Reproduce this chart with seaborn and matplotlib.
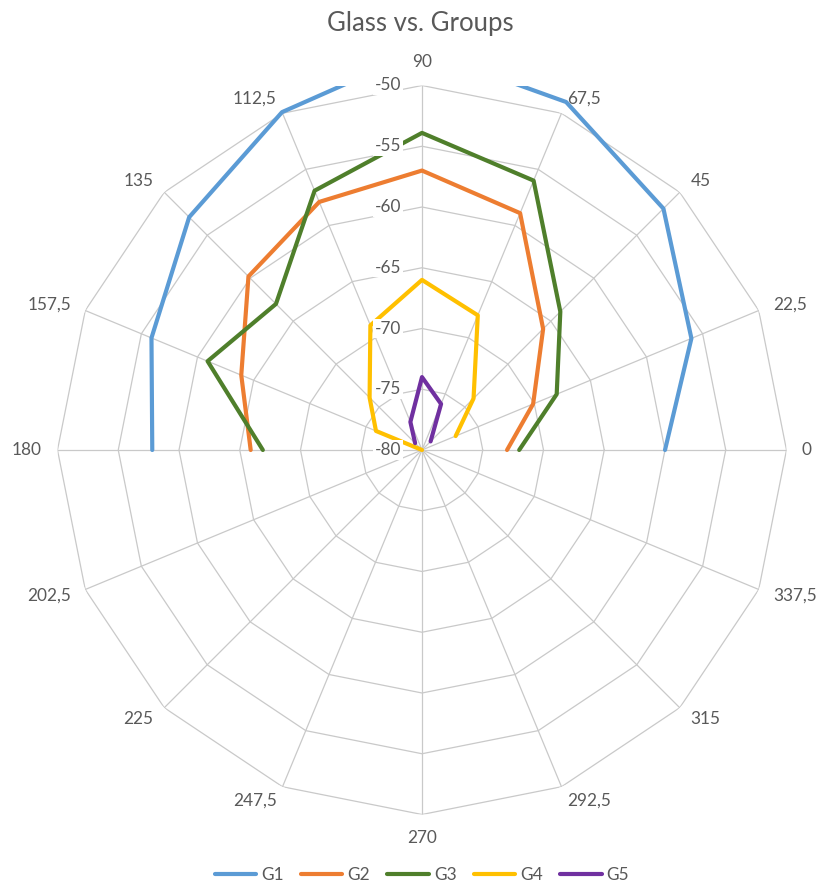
import numpy as np
import pandas as pd
import matplotlib
matplotlib.use("Agg")
import matplotlib.pyplot as plt
import matplotlib.transforms as mtransforms
import seaborn as sns

# Category axis (degrees) and its labels
angles = [0, 22.5, 45, 67.5, 90, 112.5, 135, 157.5, 180,
          202.5, 225, 247.5, 270, 292.5, 315, 337.5]
angle_labels = ["0", "22,5", "45", "67,5", "90", "112,5", "135", "157,5", "180",
                "202,5", "225", "247,5", "270", "292,5", "315", "337,5"]

nan = np.nan
g1 = [-60.0, -56.0, -51.9, -49.0, -47.1, -49.9, -52.9, -55.9, -57.8,
      nan, nan, nan, nan, nan, nan, nan]
g2 = [-73.0, -70.1, -65.9, -58.9, -57.0, -57.9, -59.8, -63.9, -65.9,
      nan, nan, nan, nan, nan, nan, nan]
g3 = [-72.0, -68.0, -63.9, -56.0, -53.9, -56.9, -63.0, -60.9, -66.9,
      nan, nan, nan, nan, nan, nan, nan]
g4 = [nan, -77.0, -74.0, -68.0, -66.0, -68.9, -73.9, -75.9, -80.0,
      nan, nan, nan, nan, nan, nan, nan]
g5 = [nan, nan, -79.0, -75.9, -74.0, -77.5, -79.2, nan, nan,
      nan, nan, nan, nan, nan, nan, nan]

groups = ["G1", "G2", "G3", "G4", "G5"]
colors = ["#5B9BD5", "#ED7D31", "#4F7F2B", "#FFC000", "#7030A0"]
r_ticks = [-80, -75, -70, -65, -60, -55, -50]

sns.set_theme(style="white")
plt.rcParams["font.family"] = ["Lato", "DejaVu Sans"]

text_color = "#595959"
grid_color = "#C9C9C9"
label_size = 12.4

W, H = 818, 883
cx, cy, R = 422, 450, 364.5
fig = plt.figure(figsize=(W / 100, H / 100), dpi=100)
ax = fig.add_axes([(cx - R) / W, (H - cy - R) / H, 2 * R / W, 2 * R / H],
                  projection="polar")

theta = np.deg2rad(angles)
rmin, rmax = r_ticks[0], r_ticks[-1]

# spokes from the polar x-grid, polygonal rings as straight-segment lines
ax.set_xticks(theta)
ax.set_xticklabels([])
ax.set_yticks([])
ax.grid(axis="x", color=grid_color, lw=0.9)
ax.spines["polar"].set_visible(False)
ax.set_facecolor("white")

ring_theta = np.append(theta, theta[0] + 2 * np.pi)
for lvl in r_ticks[1:]:
    ax.plot(ring_theta, np.full(ring_theta.shape, lvl), color=grid_color,
            lw=0.9, zorder=1)

n_before = len(ax.lines)

df = pd.DataFrame({
    "theta": np.tile(theta, len(groups)),
    "value": g1 + g2 + g3 + g4 + g5,
    "group": np.repeat(groups, len(angles)),
}).dropna()

sns.lineplot(data=df, x="theta", y="value", hue="group", hue_order=groups,
             palette=dict(zip(groups, colors)), lw=3.0, sort=True,
             estimator=None, ax=ax, zorder=3)
ax.set_xlabel("")
ax.set_ylabel("")
ax.set_ylim(rmin, rmax)

# values past the outer ring are cut by the plot rectangle, not the circle
for line in ax.lines[n_before:]:
    line.set_clip_path(None)
    line.set_clip_box(ax.bbox)

# radial value labels along the 90 spoke, on white boxes
off = mtransforms.offset_copy(ax.transData, fig=fig, x=-21, y=0, units="dots")
for lvl in r_ticks:
    ax.text(np.pi / 2, lvl, f"{lvl}", transform=off, ha="right", va="center",
            fontsize=label_size, color=text_color, zorder=6,
            bbox=dict(boxstyle="square,pad=0.1", fc="white", ec="none"))

# category labels around the outside
px_per_unit = R / (rmax - rmin)
r_lab = rmin + 380 / px_per_unit
for t, lab in zip(theta, angle_labels):
    c, s = np.cos(t), np.sin(t)
    ha = "left" if c > 0.1 else ("right" if c < -0.1 else "center")
    va = "bottom" if s > 0.95 else ("top" if s < -0.95 else "center")
    ax.text(t, r_lab, lab, ha=ha, va=va, fontsize=label_size, color=text_color,
            clip_on=False)

fig.text(420 / W, 1 - 23 / H, "Glass vs. Groups", ha="center", va="center",
         fontsize=18.5, color=text_color)

sns.move_legend(ax, "center", bbox_to_anchor=(422 / W, 8 / H),
                bbox_transform=fig.transFigure, ncol=5, frameon=False,
                title=None, fontsize=label_size, handlelength=2.4,
                handletextpad=0.3, columnspacing=1.0)
for t in ax.get_legend().get_texts():
    t.set_color(text_color)

fig.savefig("out.png", dpi=100, facecolor="white")
